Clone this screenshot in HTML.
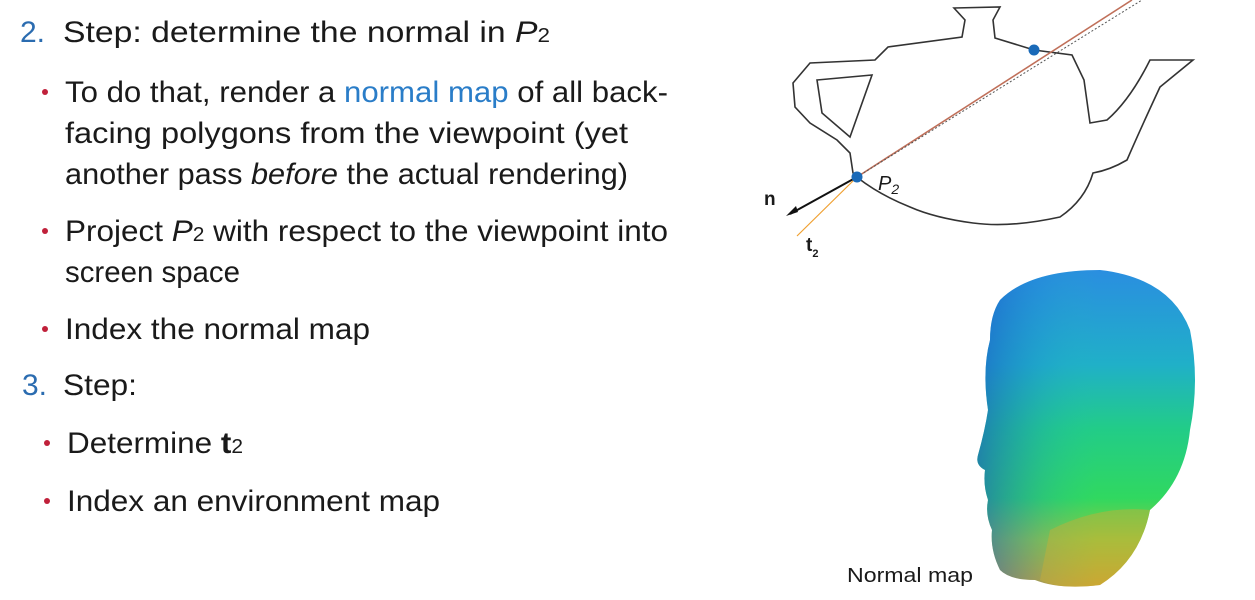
<!DOCTYPE html>
<html><head><meta charset="utf-8"><style>
html,body{margin:0;padding:0;background:#fff;}
svg{display:block;}
text{font-family:"Liberation Sans",sans-serif;fill:#1a1a1a;}
</style></head><body>
<svg width="1255" height="600" viewBox="0 0 1255 600" xmlns="http://www.w3.org/2000/svg">
<defs>
<linearGradient id="hg" x1="0" y1="0" x2="0" y2="1">
<stop offset="0" stop-color="#2a8ee0"/>
<stop offset="0.3" stop-color="#20b0c8"/>
<stop offset="0.5" stop-color="#22cc88"/>
<stop offset="0.72" stop-color="#30d860"/>
<stop offset="0.85" stop-color="#90c840"/>
<stop offset="1" stop-color="#d0a030"/>
</linearGradient>
<linearGradient id="hg3" x1="0" y1="0" x2="1" y2="0">
<stop offset="0" stop-color="#1a50c8" stop-opacity="0.6"/>
<stop offset="0.3" stop-color="#1a80d0" stop-opacity="0.2"/>
<stop offset="0.55" stop-color="#20c0b0" stop-opacity="0"/>
</linearGradient>
</defs>
<g font-size="30">
<text x="20" y="42" style="fill:#2b6cb0">2.</text>
<text x="63" y="42" textLength="487" lengthAdjust="spacingAndGlyphs">Step: determine the normal in <tspan font-style="italic">P</tspan><tspan font-size="20">2</tspan></text>
<text x="22" y="395" style="fill:#2b6cb0">3.</text>
<text x="63" y="395" textLength="74" lengthAdjust="spacingAndGlyphs">Step:</text>
</g>
<g>
<circle cx="45" cy="92" r="3" style="fill:#c0203a"/>
<circle cx="45" cy="231" r="3" style="fill:#c0203a"/>
<circle cx="45" cy="329" r="3" style="fill:#c0203a"/>
<circle cx="47" cy="443" r="3" style="fill:#c0203a"/>
<circle cx="47" cy="501" r="3" style="fill:#c0203a"/>
</g>
<g font-size="30">
<text x="65" y="102" textLength="603" lengthAdjust="spacingAndGlyphs">To do that, render a <tspan style="fill:#2a7dc8">normal map</tspan> of all back-</text>
<text x="65" y="143" textLength="563" lengthAdjust="spacingAndGlyphs">facing polygons from the viewpoint (yet</text>
<text x="65" y="184" textLength="563" lengthAdjust="spacingAndGlyphs">another pass <tspan font-style="italic">before</tspan> the actual rendering)</text>
<text x="65" y="241" textLength="603" lengthAdjust="spacingAndGlyphs">Project <tspan font-style="italic">P</tspan><tspan font-size="20">2</tspan> with respect to the viewpoint into</text>
<text x="65" y="282" textLength="175" lengthAdjust="spacingAndGlyphs">screen space</text>
<text x="65" y="339" textLength="305" lengthAdjust="spacingAndGlyphs">Index the normal map</text>
<text x="67" y="453" textLength="176" lengthAdjust="spacingAndGlyphs">Determine <tspan font-weight="bold">t</tspan><tspan font-size="20">2</tspan></text>
<text x="67" y="511" textLength="373" lengthAdjust="spacingAndGlyphs">Index an environment map</text>
</g>
<!-- teapot -->
<path d="M954,8 L1000,7 L993,20 L995,38 L1034,50 L1072,55 L1084,80 L1090,123 L1107,120 Q1130,100 1150,60 L1193,60 L1160,87 Q1140,130 1127,160 Q1110,170 1093,173 Q1085,200 1060,217 Q1010,228 973,223 Q935,218 910,207 Q880,195 858,178 L853,173 L850,153 L837,140 L810,123 L795,107 L793,83 L810,63 L875,60 L888,47 L962,37 L965,20 Z" fill="none" stroke="#333" stroke-width="1.6"/>
<path d="M817,80 L872,75 L850,137 L822,113 Z" fill="none" stroke="#333" stroke-width="1.6"/>
<line x1="857" y1="177" x2="1132" y2="0" stroke="#c0705a" stroke-width="1.6"/>
<line x1="857" y1="177" x2="1142" y2="0" stroke="#555" stroke-width="1" stroke-dasharray="2,2"/>
<line x1="857" y1="177" x2="797" y2="236" stroke="#f0a030" stroke-width="1.2"/>
<line x1="857" y1="177" x2="790" y2="214" stroke="#111" stroke-width="2"/>
<path d="M786,216 L796,206 L798,212 Z" fill="#111"/>
<circle cx="857" cy="177" r="5.5" fill="#1a6ab8"/>
<circle cx="1034" cy="50" r="5.5" fill="#1a6ab8"/>
<text x="878" y="190" font-size="20" font-style="italic">P<tspan font-size="14" dy="4">2</tspan></text>
<text x="764" y="205" font-size="19" font-weight="bold">n</text>
<text x="806" y="251" font-size="19" font-weight="bold">t<tspan font-size="11" dy="6">2</tspan></text>
<!-- head -->
<path d="M1000,300 Q1030,270 1100,270 Q1170,278 1190,330 Q1200,380 1190,430 Q1185,480 1150,510 Q1140,560 1100,585 Q1060,590 1035,580 Q1010,580 1000,570 Q990,550 992,530 Q985,515 988,500 Q983,485 985,470 Q975,465 978,455 Q985,430 988,410 Q982,370 990,340 Q990,315 1000,300 Z" fill="url(#hg)"/>
<path d="M1000,300 Q1030,270 1100,270 Q1170,278 1190,330 Q1200,380 1190,430 Q1185,480 1150,510 Q1140,560 1100,585 Q1060,590 1035,580 Q1010,580 1000,570 Q990,550 992,530 Q985,515 988,500 Q983,485 985,470 Q975,465 978,455 Q985,430 988,410 Q982,370 990,340 Q990,315 1000,300 Z" fill="url(#hg3)"/>
<path d="M1050,530 Q1100,505 1150,510 Q1140,560 1100,585 Q1060,590 1040,580 Z" fill="#c8b038" opacity="0.45"/>
<text x="847" y="582" font-size="20" textLength="126" lengthAdjust="spacingAndGlyphs">Normal map</text>
</svg>
</body></html>
